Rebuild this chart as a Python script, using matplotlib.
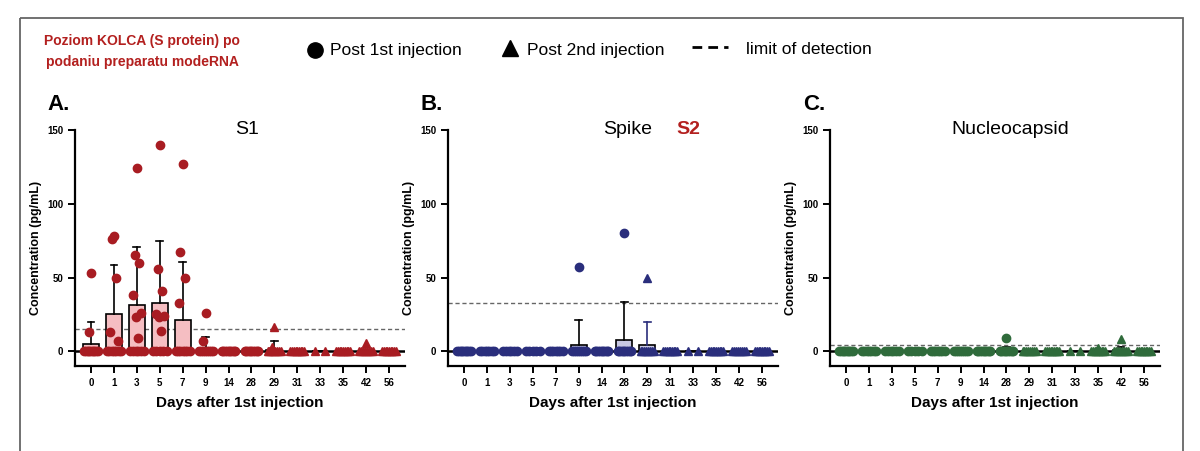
import matplotlib
matplotlib.use('Agg')
import matplotlib.pyplot as plt
from matplotlib.patches import Rectangle
import numpy as np

plt.rcParams['font.family'] = ['Liberation Sans', 'DejaVu Sans']

'''---------------Data------------------------'''

days = ['0', '1', '3', '5', '7', '9', '14', '28', '29', '31', '33', '35', '42', '56']
first_dose = [True] * 8 + [False] * 6   # circles up to day 28, triangles after

# nonzero individual values per day (zeros handled by count below)
s1_points = [[53, 13], [78, 76, 50, 13, 7], [124, 65, 60, 38, 26, 23, 9], [140, 56, 41, 25, 24, 23, 14],
             [127, 67, 50, 33], [26, 7], [], [], [16.5, 3], [], [], [], [5.5], []]
s2_points = [[], [], [], [], [], [57], [], [80], [50], [], [], [], [], []]
nc_points = [[], [], [], [], [], [], [], [9], [], [], [], [2], [8.5], []]
zero_count = [9, 7, 6, 5, 7, 8, 9, 9, 8, 9, 2, 9, 8, 9]

s1_mean = [5, 25, 31.5, 32.5, 21.5, 2.5, 0, 0, 1, 0, 0, 0, 0.5, 0]
s1_top = [20, 58.5, 70.5, 74.7, 60.5, 10, 0, 0, 7, 0, 0, 0, 0, 0]
s2_mean = [0, 0, 0, 0, 0, 4, 0, 7.8, 4, 0, 0, 0, 0, 0]
s2_top = [0, 0, 0, 0, 0, 21.4, 0, 33.2, 20, 0, 0, 0, 0, 0]
nc_mean = [0, 0, 0, 0, 0, 0, 0, 0.7, 0, 0, 0, 0, 0.6, 0]
nc_top = [0, 0, 0, 0, 0, 0, 0, 3.2, 0, 0, 0, 0, 3, 0]

lod = [15, 33, 4.3]

red = '#a81c22'
pink = '#f5bec2'
navy = '#2a2e7c'
lav = '#c8c8e3'
green = '#2f6b3b'

fig = plt.figure(figsize=(12, 4.51), dpi=100)

# overlay in pixel coords for frame + legend
ov = fig.add_axes([0, 0, 1, 1])
ov.set_xlim(0, 1200)
ov.set_ylim(451, 0)
ov.axis('off')
ov.add_patch(Rectangle((20, 18), 1163, 440, fill=False, ec='#666666', lw=1.3))
ov.text(142, 41, 'Poziom KOLCA (S protein) po', color='#b3201f', fontsize=10, fontweight='bold', ha='center', va='center')
ov.text(142, 62, 'podaniu preparatu modeRNA', color='#b3201f', fontsize=10, fontweight='bold', ha='center', va='center')
ov.plot([315], [50], 'o', color='black', ms=11)
ov.text(330, 50, 'Post 1st injection', fontsize=12.5, va='center')
ov.plot([510], [48], '^', color='black', ms=12)
ov.text(527, 50, 'Post 2nd injection', fontsize=12.5, va='center')
ov.plot([692, 728], [47, 47], color='black', lw=2, dashes=(3.5, 2.2))
ov.text(746, 50, 'limit of detection', fontsize=12.5, va='center')

panels = [
    (75, 'A.', 47, 'S1', s1_points, s1_mean, s1_top, red, pink),
    (448, 'B.', 420, 'Spike', s2_points, s2_mean, s2_top, navy, lav),
    (830, 'C.', 803, 'Nucleocapsid', nc_points, nc_mean, nc_top, green, '#bcd8bf'),
]

for k, (left, letter, lx, title, pts, mean, top, col, fill) in enumerate(panels):
    ax = fig.add_axes([left / 1200, 1 - 366 / 451, 330 / 1200, (366 - 130) / 451])
    ax.set_facecolor('none')
    ax.set_xlim(-0.7, 13.7)
    ax.set_ylim(-10, 150)
    xs = np.arange(len(days))

    ax.axhline(0, color='black', lw=1.8, zorder=1)
    ax.axhline(lod[k], color='#666666', lw=1, dashes=(3, 2), zorder=1)

    ax.bar(xs, mean, width=0.7, color=fill, edgecolor='black', lw=1.2, zorder=2)
    for i in range(len(days)):
        if top[i] > mean[i]:
            ec = col if (k == 1 and i == 8) else 'black'
            ax.plot([i, i], [mean[i], top[i]], color=ec, lw=1.2, zorder=2)
            ax.plot([i - 0.15, i + 0.15], [top[i], top[i]], color=ec, lw=1.2, zorder=2)

        m = 'o' if first_dose[i] else '^'
        nz = zero_count[i]
        if i == 10:
            zx = i + np.array([-0.22, 0.22])
        else:
            zx = i + np.linspace(-0.3, 0.3, nz)
        ax.plot(zx, np.zeros(len(zx)), m, color=col, ms=6, mec=col, zorder=3, ls='none')
        off = [0, -0.1, 0.1, -0.18, 0.18, -0.05, 0.05]
        for j, v in enumerate(pts[i]):
            ax.plot(i + off[j % len(off)], v, m, color=col, ms=6, zorder=3)

    for s in ['top', 'right']:
        ax.spines[s].set_visible(False)
    for s in ['left', 'bottom']:
        ax.spines[s].set_linewidth(1.6)
    ax.set_yticks([0, 50, 100, 150])
    ax.set_xticks(xs)
    ax.set_xticklabels(days)
    ax.tick_params(width=1.4, length=5, labelsize=7)
    for lab in ax.get_xticklabels() + ax.get_yticklabels():
        lab.set_fontweight('bold')
    ax.set_ylabel('Concentration (pg/mL)', fontsize=9, fontweight='bold', labelpad=4)
    ax.set_xlabel('Days after 1st injection', fontsize=11, fontweight='bold', labelpad=6)

    ov.text(lx, 104, letter, fontsize=16, fontweight='bold', va='center')

ov.text(247, 129, 'S1', fontsize=14, ha='center', va='center')
ov.text(628, 129, 'Spike', fontsize=14, ha='center', va='center')
ov.text(688, 129, 'S2', fontsize=14, fontweight='bold', color='#b3201f', ha='center', va='center')
ov.text(1010, 129, 'Nucleocapsid', fontsize=14, ha='center', va='center')

fig.savefig('out.png', dpi=100)
